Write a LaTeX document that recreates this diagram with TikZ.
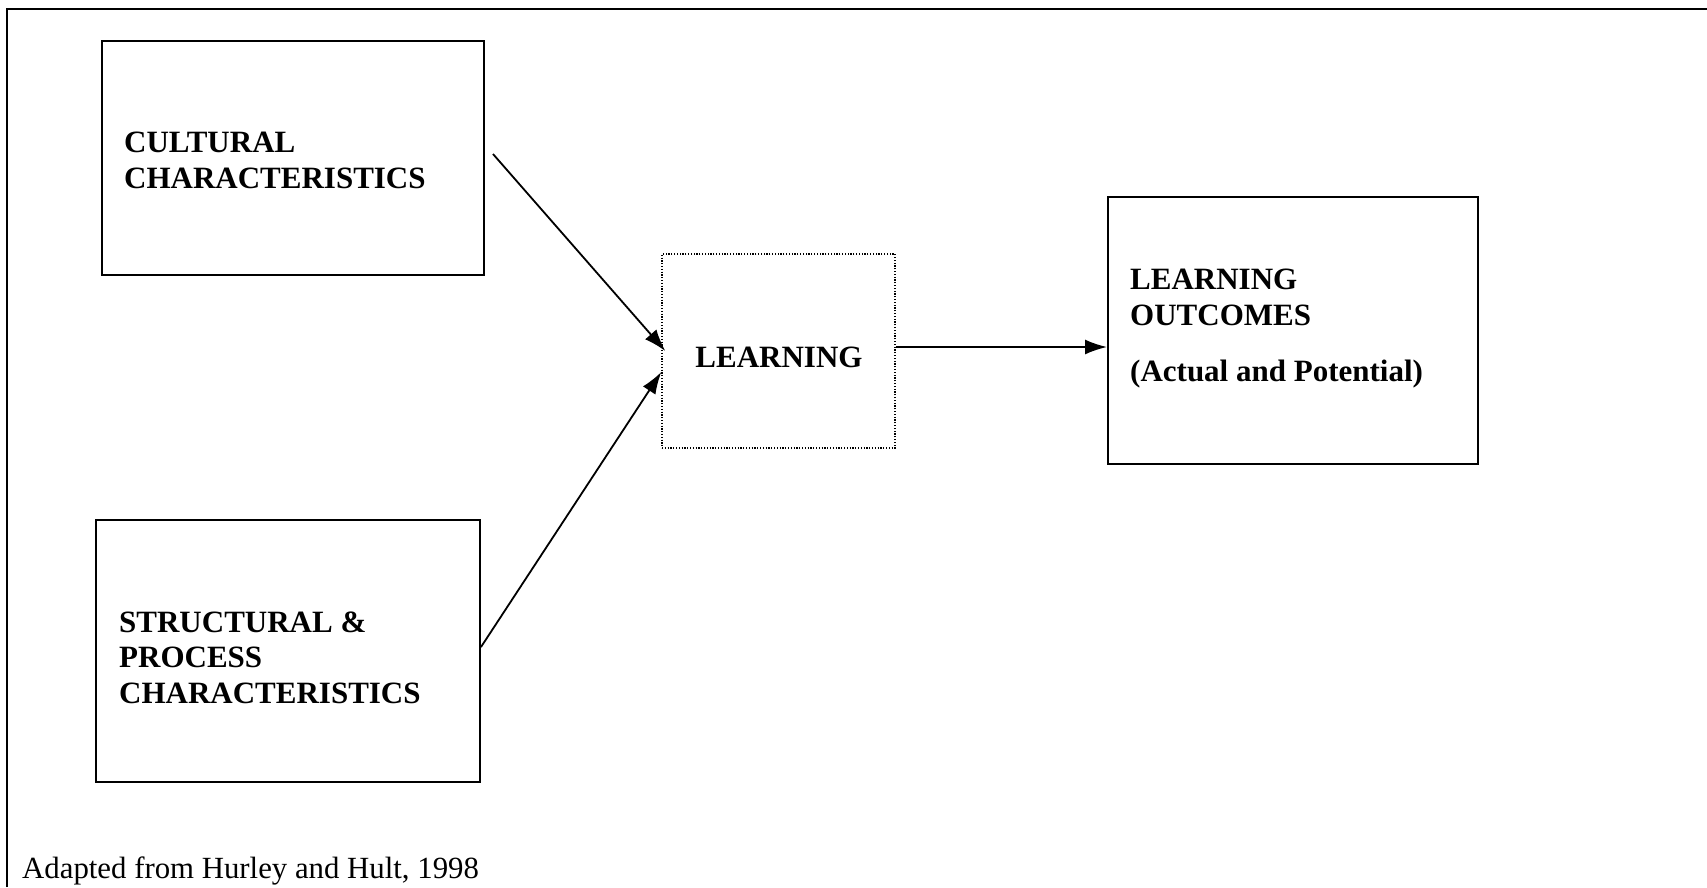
\documentclass[tikz,border=0pt]{standalone}
\usepackage{fontspec}
\setmainfont{Liberation Serif}
\usetikzlibrary{arrows.meta}
\begin{document}
\begin{tikzpicture}[x=1pt,y=-1pt,
  box/.style={draw,line width=2pt,inner sep=0pt},
  dotbox/.style={draw,line width=1.4pt,dash pattern=on 1.2pt off 1.6pt,inner sep=0pt},
  lbl/.style={anchor=base west,inner sep=0pt,font=\fontsize{31}{37}\selectfont\bfseries},
  note/.style={anchor=base west,inner sep=0pt,font=\fontsize{30.8}{37}\selectfont},
  arr/.style={line width=1.8pt,-{Latex[length=22pt,width=15pt]}}]
\useasboundingbox (0,0) rectangle (1707,887);
% frame
\draw[line width=2.6pt] (7,887) -- (7,9) -- (1707,9);
% boxes
\node[box,minimum width=382pt,minimum height=234pt] (cult) at (293,158) {};
\node[box,minimum width=384pt,minimum height=262pt] (struct) at (288,651) {};
\node[dotbox,minimum width=233pt,minimum height=194pt] (learn) at (778.5,351) {};
\node[box,minimum width=370pt,minimum height=267pt] (outc) at (1293,330.5) {};
% texts
\node[lbl] (c1) at (124,152) {CULTURAL};
\node[lbl] (c2) at (124,188) {CHARACTERISTICS};
\node[lbl] (s1) at (119,632) {STRUCTURAL \&};
\node[lbl] (s2) at (119,667) {PROCESS};
\node[lbl] (s3) at (119,703) {CHARACTERISTICS};
\node[lbl,anchor=base] (l1) at (779,367) {LEARNING};
\node[lbl] (o1) at (1130,289) {LEARNING};
\node[lbl] (o2) at (1130,325) {OUTCOMES};
\node[lbl] (o3) at (1130,381) {(Actual and Potential)};
\node[note] (fn) at (22,878) {Adapted from Hurley and Hult, 1998};
% arrows
\draw[arr] ([xshift=8pt,yshift=4pt]cult.east) -- ([xshift=4pt]learn.west);
\draw[arr] ([yshift=4pt]struct.east) -- ([yshift=-21pt]learn.west);
\draw[arr] ([yshift=4pt]learn.east) -- ([yshift=4pt]learn.east -| outc.west);
\end{tikzpicture}
\end{document}
